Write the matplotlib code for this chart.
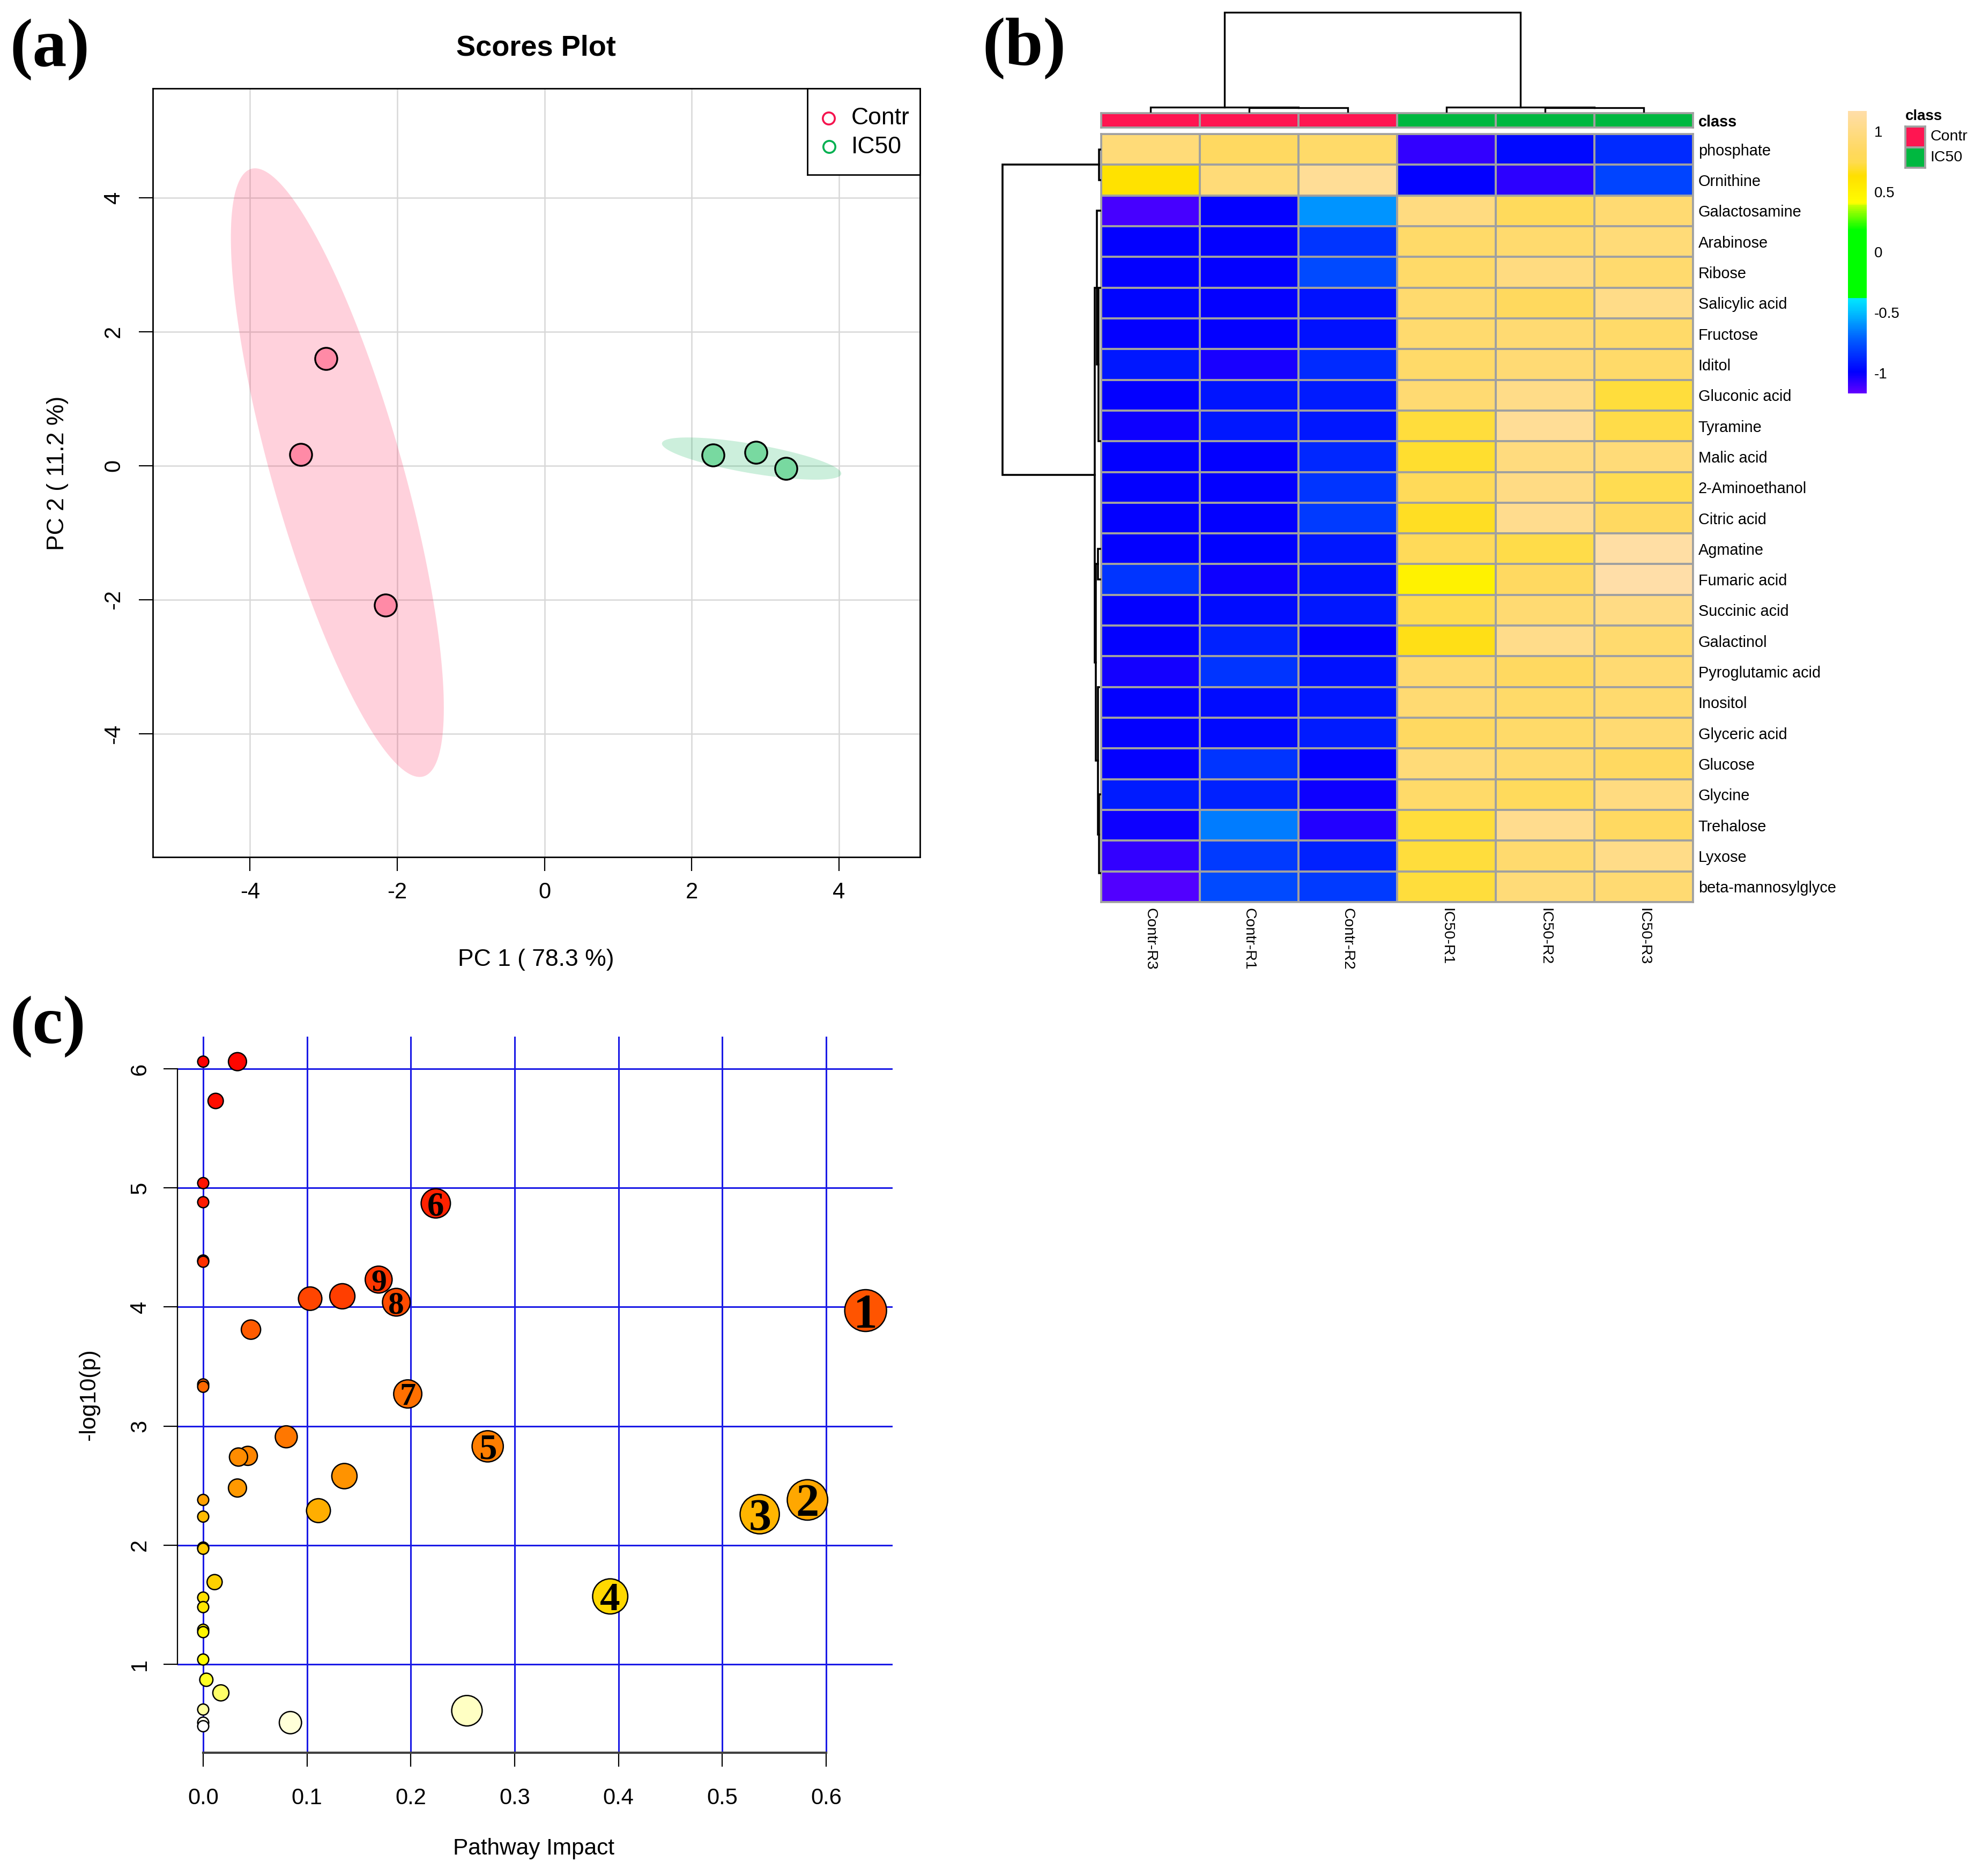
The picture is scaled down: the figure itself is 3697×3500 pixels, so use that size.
import numpy as np
import matplotlib
matplotlib.use("Agg")
import matplotlib.pyplot as plt
from matplotlib.colors import LinearSegmentedColormap, ListedColormap

plt.rcParams["font.family"] = ["Liberation Sans", "DejaVu Sans"]
plt.rcParams["axes.unicode_minus"] = False

W, H = 3697, 3500

# (a) scores plot
contr_pc1 = [-2.97, -3.31, -2.16]
contr_pc2 = [1.60, 0.17, -2.08]
ic50_pc1 = [2.29, 2.87, 3.28]
ic50_pc2 = [0.16, 0.20, -0.04]

# (b) heatmap
row_names = ["phosphate", "Ornithine", "Galactosamine", "Arabinose", "Ribose", "Salicylic acid",
             "Fructose", "Iditol", "Gluconic acid", "Tyramine", "Malic acid", "2-Aminoethanol",
             "Citric acid", "Agmatine", "Fumaric acid", "Succinic acid", "Galactinol",
             "Pyroglutamic acid", "Inositol", "Glyceric acid", "Glucose", "Glycine",
             "Trehalose", "Lyxose", "beta-mannosylglyce"]
col_names = ["Contr-R3", "Contr-R1", "Contr-R2", "IC50-R1", "IC50-R2", "IC50-R3"]
col_class = [0, 0, 0, 1, 1, 1]
heat_values = [
    [0.95, 0.85, 0.88, -1.08, -0.97, -0.87],
    [0.62, 0.95, 1.08, -1.00, -1.07, -0.80],
    [-1.12, -1.00, -0.60, 0.98, 0.82, 0.92],
    [-1.00, -1.00, -0.85, 0.88, 0.90, 0.95],
    [-1.00, -1.00, -0.78, 0.88, 0.98, 0.90],
    [-0.98, -1.00, -0.95, 0.90, 0.83, 1.02],
    [-1.00, -1.00, -0.95, 0.90, 0.92, 0.88],
    [-0.93, -1.04, -0.87, 0.88, 0.93, 0.88],
    [-1.00, -0.94, -0.92, 0.92, 1.02, 0.72],
    [-1.02, -0.93, -0.93, 0.72, 1.08, 0.74],
    [-1.00, -1.00, -0.88, 0.70, 0.97, 0.95],
    [-1.00, -1.00, -0.85, 0.80, 1.00, 0.75],
    [-1.00, -1.00, -0.83, 0.68, 1.05, 0.85],
    [-1.00, -0.99, -0.93, 0.80, 0.74, 1.15],
    [-0.85, -1.02, -0.95, 0.50, 0.85, 1.17],
    [-1.00, -0.96, -0.93, 0.75, 0.92, 1.00],
    [-1.00, -0.90, -1.00, 0.66, 1.03, 0.90],
    [-1.03, -0.85, -0.95, 0.90, 0.85, 0.92],
    [-1.00, -0.96, -0.94, 0.92, 0.88, 0.90],
    [-1.00, -0.97, -0.92, 0.85, 0.88, 0.92],
    [-1.00, -0.85, -1.00, 0.95, 0.90, 0.85],
    [-0.92, -0.90, -1.02, 0.88, 0.82, 0.98],
    [-1.02, -0.65, -1.06, 0.72, 1.05, 0.85],
    [-1.08, -0.83, -0.90, 0.72, 0.90, 1.02],
    [-1.14, -0.78, -0.83, 0.72, 0.95, 0.92],
]
# links: pos1, pos2, height, child height 1, child height 2
col_links = [(0.5, 2.0, 0.45, 0, 0.40), (1.5, 2.5, 0.40, 0, 0),
             (3.5, 5.0, 0.45, 0, 0.40), (4.5, 5.5, 0.38, 0, 0),
             (1.25, 4.25, 10, 0.45, 0.45)]
row_links = [(0.5, 1.5, 0.12, 0, 0), (1.0, 11.1, 10, 0.12, 0.55),
             (5.0, 17.2, 0.55, 0.35, 0.45), (2.5, 7.5, 0.35, 0, 0.15),
             (5.0, 10.0, 0.15, 0, 0), (14.0, 20.4, 0.45, 0.2, 0.2),
             (13.5, 14.5, 0.2, 0, 0), (18.0, 22.8, 0.2, 0.1, 0.1),
             (21.5, 24.05, 0.1, 0, 0)]

# (c) pathway plot
impact = [0.000, 0.033, 0.012, 0.000, 0.000, 0.000, 0.000, 0.224, 0.169, 0.186, 0.103, 0.134,
          0.638, 0.046, 0.000, 0.000, 0.197, 0.080, 0.043, 0.034, 0.274, 0.136, 0.033, 0.000,
          0.000, 0.111, 0.582, 0.536, 0.000, 0.000, 0.011, 0.392, 0.000, 0.000, 0.000, 0.000,
          0.000, 0.003, 0.017, 0.000, 0.254, 0.084, 0.000, 0.000]
log_p = [6.06, 6.06, 5.73, 5.04, 4.88, 4.39, 4.38, 4.87, 4.23, 4.04, 4.07, 4.09,
         3.97, 3.81, 3.35, 3.33, 3.27, 2.91, 2.75, 2.74, 2.83, 2.58, 2.48, 2.38,
         2.24, 2.29, 2.38, 2.26, 1.98, 1.97, 1.69, 1.57, 1.56, 1.48, 1.29, 1.27,
         1.04, 0.87, 0.76, 0.62, 0.61, 0.51, 0.51, 0.48]
pathway_tags = {12: "1", 26: "2", 27: "3", 31: "4", 20: "5", 7: "6", 16: "7", 9: "8", 8: "9"}

fig = plt.figure(figsize=(W / 100, H / 100), dpi=100, facecolor="white")


def axpx(l, t, r, b):
    return fig.add_axes([l / W, 1 - b / H, (r - l) / W, (b - t) / H])


def textpx(x, y, s, **kw):
    fig.text(x / W, 1 - y / H, s, **kw)


def cov_ellipse(xs, ys):
    # 95% ellipse from the group's own scatter
    xy = np.array([xs, ys])
    c = np.linalg.cholesky(np.cov(xy))
    t = np.linspace(0, 2 * np.pi, 200)
    pts = 2.448 * c @ np.array([np.cos(t), np.sin(t)])
    return xy.mean(axis=1)[0] + pts[0], xy.mean(axis=1)[1] + pts[1]


# panel a
ax = axpx(285, 165, 1716, 1599)
ax.set_xlim(-5.32, 5.10)
ax.set_ylim(-5.84, 5.63)
ax.set_xticks([-4, -2, 0, 2, 4])
ax.set_yticks([-4, -2, 0, 2, 4])
ax.grid(True, color="#D8D8D8", lw=1.8)
ax.set_axisbelow(True)
ax.tick_params(length=19, width=1.6, labelsize=30)
ax.tick_params(axis="x", pad=14)
ax.tick_params(axis="y", pad=19)
for lab in ax.get_yticklabels():
    lab.set_rotation(90)
    lab.set_va("center")
for s in ax.spines.values():
    s.set_linewidth(2)
ex, ey = cov_ellipse(contr_pc1, contr_pc2)
ax.fill(ex, ey, color="#FF1A50", alpha=0.2, lw=0)
ex, ey = cov_ellipse(ic50_pc1, ic50_pc2)
ax.fill(ex, ey, color="#00B050", alpha=0.2, lw=0)
ax.scatter(contr_pc1, contr_pc2, s=880, c="#FF8AA6", edgecolors="black", linewidths=2.4, zorder=3)
ax.scatter(ic50_pc1, ic50_pc2, s=880, c="#78D9A0", edgecolors="black", linewidths=2.4, zorder=3)

lg = axpx(1506, 165, 1716, 326)
lg.set_xlim(1506, 1716)
lg.set_ylim(326, 165)
lg.set_xticks([])
lg.set_yticks([])
for s in lg.spines.values():
    s.set_linewidth(2)
lg.scatter([1546], [221], s=260, facecolors="none", edgecolors="#F5134E", linewidths=2.6)
lg.scatter([1547], [274], s=260, facecolors="none", edgecolors="#00B050", linewidths=2.6)
lg.text(1588, 221, "Contr", fontsize=32, va="center")
lg.text(1588, 274, "IC50", fontsize=32, va="center")

textpx(1000, 90, "Scores Plot", fontsize=39, fontweight="bold", ha="center", va="center")
textpx(1000, 1791, "PC 1 ( 78.3 %)", fontsize=32, ha="center", va="center")
textpx(107, 883, "PC 2 ( 11.2 %)", fontsize=32, rotation=90, ha="center", va="center")

# panel b
heat_cmap = LinearSegmentedColormap.from_list("hm", [
    (0.000, "#6000FF"), (0.073, "#0000FF"), (0.192, "#0060FF"), (0.287, "#00C0FF"),
    (0.336, "#00E8FF"), (0.337, "#00FF00"), (0.580, "#00FF00"), (0.668, "#C8FF00"),
    (0.672, "#FFFF00"), (0.771, "#FFE000"), (0.820, "#FFDC50"), (0.860, "#FFD960"),
    (1.000, "#FFDEA8")])
vmin, vmax = -1.17, 1.17
hm = axpx(2054, 250, 3158, 1683)
hm.pcolormesh(np.array(heat_values), cmap=heat_cmap, vmin=vmin, vmax=vmax,
              edgecolors="#A0A0A0", linewidth=2.6)
hm.set_ylim(len(row_names), 0)
hm.set_xticks(np.arange(6) + 0.5)
hm.set_xticklabels(col_names, rotation=270, fontsize=20.5, ha="center", va="top")
hm.yaxis.tick_right()
hm.set_yticks(np.arange(25) + 0.5)
hm.set_yticklabels(row_names, fontsize=20.8)
hm.tick_params(length=0)
hm.tick_params(axis="y", pad=7)
hm.tick_params(axis="x", pad=8)
for s in hm.spines.values():
    s.set_color("#A0A0A0")
    s.set_linewidth(2.6)

bar = axpx(2054, 211, 3158, 238)
bar.pcolormesh(np.array([col_class]), cmap=ListedColormap(["#FF1551", "#00B840"]),
               edgecolors="#A0A0A0", linewidth=2.6)
bar.set_xticks([])
bar.yaxis.tick_right()
bar.set_yticks([0.5])
bar.set_yticklabels(["class"], fontsize=20.8, fontweight="bold")
bar.tick_params(length=0, pad=7)
for s in bar.spines.values():
    s.set_color("#A0A0A0")
    s.set_linewidth(2.6)

den_top = axpx(2054, 20, 3158, 208)
den_top.set_xlim(0, 6)
den_top.set_ylim(0, 10.15)
den_top.axis("off")
for x1, x2, h, h1, h2 in col_links:
    den_top.plot([x1, x1, x2, x2], [h1, h, h, h2], color="black", lw=2.4, clip_on=False,
                 solid_joinstyle="miter")

den_left = axpx(1868, 250, 2052, 1683)
den_left.set_xlim(10.1, 0)
den_left.set_ylim(25, 0)
den_left.axis("off")
for y1, y2, h, h1, h2 in row_links:
    den_left.plot([h1, h, h, h2], [y1, y1, y2, y2], color="black", lw=2.6, clip_on=False,
                  solid_joinstyle="miter")

cb = axpx(3447, 207, 3482, 734)
cb.imshow(np.linspace(vmax, vmin, 400).reshape(-1, 1), cmap=heat_cmap, vmin=vmin, vmax=vmax,
          aspect="auto", extent=(0, 1, vmin, vmax))
cb.set_xticks([])
cb.yaxis.tick_right()
cb.set_yticks([-1, -0.5, 0, 0.5, 1])
cb.set_yticklabels(["-1", "-0.5", "0", "0.5", "1"], fontsize=20)
cb.tick_params(length=0, pad=10)
for s in cb.spines.values():
    s.set_visible(False)

leg = axpx(3554, 236, 3591, 313)
leg.pcolormesh(np.array([[0], [1]]), cmap=ListedColormap(["#FF1551", "#00B840"]),
               edgecolors="#A0A0A0", linewidth=2.6)
leg.set_ylim(2, 0)
leg.set_xticks([])
leg.set_yticks([])
for s in leg.spines.values():
    s.set_color("#A0A0A0")
    s.set_linewidth(2.6)
textpx(3554, 217, "class", fontsize=20, fontweight="bold", va="center")
textpx(3600, 255, "Contr", fontsize=20.5, va="center")
textpx(3600, 294, "IC50", fontsize=20.5, va="center")

# panel c
pw = axpx(331, 1934, 1665, 3270)
pw.set_xlim(-0.0248, 0.664)
pw.set_ylim(0.2574, 6.27)
pw.set_xticks([0, 0.1, 0.2, 0.3, 0.4, 0.5, 0.6])
pw.set_xticklabels(["0.0", "0.1", "0.2", "0.3", "0.4", "0.5", "0.6"])
pw.set_yticks([1, 2, 3, 4, 5, 6])
pw.grid(True, color="#1A1AE6", lw=2.2)
pw.set_axisbelow(True)
pw.tick_params(length=19, width=1.6, labelsize=30)
pw.tick_params(axis="x", pad=28)
pw.tick_params(axis="y", pad=17)
for lab in pw.get_yticklabels():
    lab.set_rotation(90)
    lab.set_va("center")
pw.spines["top"].set_visible(False)
pw.spines["right"].set_visible(False)
pw.spines["left"].set_bounds(1, 6)
pw.spines["left"].set_linewidth(1.6)
pw.spines["bottom"].set_bounds(0, 0.6)
pw.spines["bottom"].set_linewidth(3)
pw.spines["bottom"].set_color("#404040")

# colour follows the p-value rank, size follows impact
pw_cmap = LinearSegmentedColormap.from_list("heatc", [(0, "#FF0000"), (0.85, "#FFFF00"), (0.90, "#FFFF90"),
                                                      (0.93, "#FFFFC0"), (1, "#FFFFFF")])
order = np.argsort(np.argsort(-np.array(log_p)))
pt_colors = pw_cmap(order / (len(log_p) - 1))
diam_px = (18 + 62.5 * np.sqrt(np.array(impact))) * 1.148
pw.scatter(impact, log_p, s=(diam_px / (100 / 72)) ** 2, c=pt_colors, edgecolors="black",
           linewidths=1.8, zorder=3, clip_on=False)
for i, tag in pathway_tags.items():
    pw.text(impact[i], log_p[i], tag, fontsize=diam_px[i] / 1.148 * 0.95, fontweight="bold",
            family=["Liberation Serif"], ha="center", va="center_baseline", zorder=4)

textpx(996, 3449, "Pathway Impact", fontsize=30.5, ha="center", va="center")
textpx(166, 2602, "-log10(p)", fontsize=31, rotation=90, ha="center", va="center")

# panel letters
for x, y, s in [(18, 92, "(a)"), (1832, 90, "(b)"), (18, 1915, "(c)")]:
    textpx(x, y, s, fontsize=92, fontweight="bold", family=["Liberation Serif"], va="center")

fig.savefig("out.png", dpi=100)
